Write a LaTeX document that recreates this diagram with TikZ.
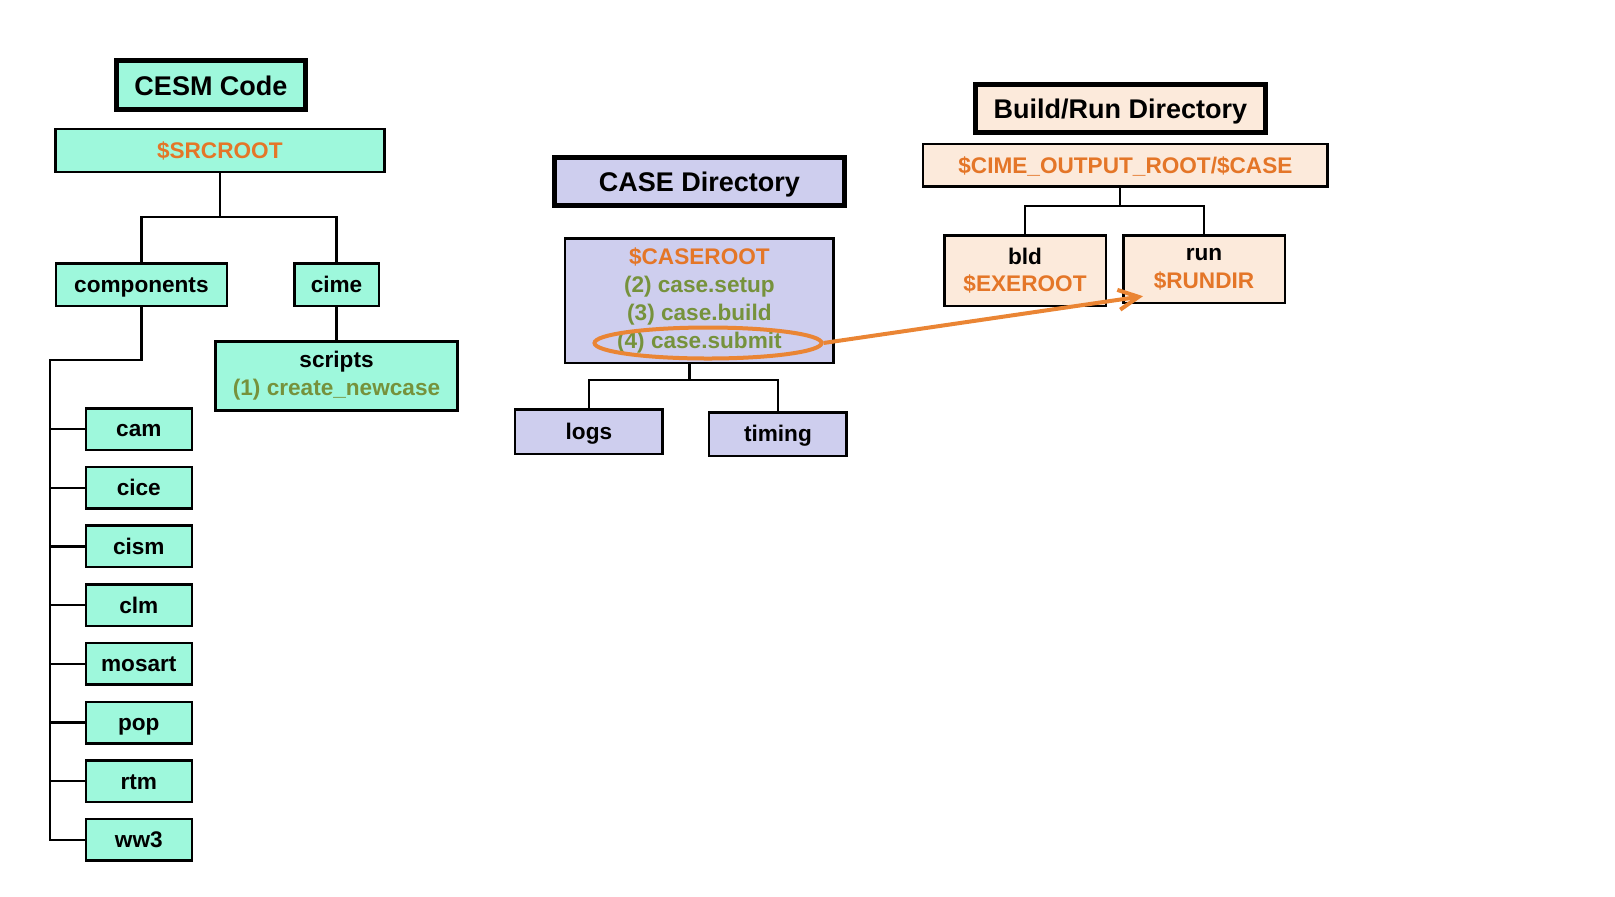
\documentclass[tikz,border=0pt]{standalone}
\usepackage{fontspec}
\setmainfont{Liberation Sans}
\usetikzlibrary{positioning, shapes.geometric, arrows.meta}

\definecolor{codegreen}{RGB}{158,248,220}
\definecolor{caselilac}{RGB}{206,206,238}
\definecolor{runpeach}{RGB}{252,234,219}
\definecolor{varorange}{RGB}{228,118,40}
\definecolor{stepgreen}{RGB}{118,146,60}
\definecolor{ringorange}{RGB}{234,133,52}

\newcommand{\dirfont}{\bfseries\fontsize{11.3}{13.9}\selectfont}
\newcommand{\headfont}{\bfseries\fontsize{13.5}{16}\selectfont}

\begin{document}
\begin{tikzpicture}[x=0.5pt, y=-0.5pt, node distance=1cm, auto]
\tikzset{
    codeDir/.style={rectangle, draw=black, line width=1.25pt, fill=codegreen, text centered, align=center, inner sep=0pt, font=\dirfont},
    caseDir/.style={codeDir, fill=caselilac},
    runDir/.style={codeDir, fill=runpeach},
    oneLine/.style={text height=9pt, text depth=1.1pt},
    codeLeaf/.style={codeDir, oneLine, minimum width=53pt, minimum height=20.75pt},
    dirTitle/.style={line width=2.5pt, minimum width=145pt, minimum height=24pt, font=\headfont, text height=10.8pt, text depth=0.8pt},
    branch/.style={draw=black, line width=1.1pt},
    submitRing/.style={ellipse, draw=ringorange, line width=2pt, minimum width=113.5pt, minimum height=15.5pt, inner sep=0pt},
    submitArrow/.style={draw=ringorange, line width=2pt, -{Straight Barb[length=10pt, width=10pt]}}
}

\useasboundingbox (0,0) rectangle (1615,896);

% nodes
\node[codeDir, dirTitle, minimum width=94.5pt, minimum height=24.5pt] (cesm) at (211,85) {CESM Code};
\node[codeDir, oneLine, minimum width=164.5pt, minimum height=21.4pt, below=7.85pt of cesm, xshift=4.4pt] (srcroot) {\textcolor{varorange}{\$SRCROOT}};
\node[codeDir, oneLine, minimum width=85.4pt, minimum height=21.25pt, below=44.5pt of srcroot, xshift=-39.2pt] (components) {components};
\node[codeDir, oneLine, minimum width=42.25pt, minimum height=21.25pt, right=32.5pt of components] (cime) {cime};
\node[codeDir, minimum width=121pt, minimum height=34.5pt, below=16.5pt of cime] (scripts) {scripts\\\textcolor{stepgreen}{(1) create\_newcase}};
\node[codeLeaf, below=50pt of components, xshift=-1.3pt] (cam) {cam};
\node[codeLeaf, below=7.35pt of cam]    (cice)   {cice};
\node[codeLeaf, below=7.35pt of cice]   (cism)   {cism};
\node[codeLeaf, below=7.35pt of cism]   (clm)    {clm};
\node[codeLeaf, below=7.35pt of clm]    (mosart) {mosart};
\node[codeLeaf, below=7.35pt of mosart] (pop)    {pop};
\node[codeLeaf, below=7.35pt of pop]    (rtm)    {rtm};
\node[codeLeaf, below=7.35pt of rtm]    (ww3)    {ww3};

\node[caseDir, dirTitle] (casetitle) at (699.4,181.5) {CASE Directory};
\node[caseDir, minimum width=134.25pt, minimum height=62.25pt, below=14.5pt of casetitle] (caseroot) {\textcolor{varorange}{\$CASEROOT}\\\textcolor{stepgreen}{(2) case.setup}\\\textcolor{stepgreen}{(3) case.build}\\\textcolor{stepgreen}{(4) case.submit}};
\node[caseDir, oneLine, minimum width=73.75pt, minimum height=22.25pt, below=22pt of caseroot, xshift=-55.25pt] (logs) {logs};
\node[caseDir, oneLine, minimum width=68.75pt, minimum height=21.75pt, right=22pt of logs, yshift=-1.25pt] (timing) {timing};

\node[runDir, dirTitle] (runtitle) at (1120.4,108.4) {Build/Run Directory};
\node[runDir, oneLine, minimum width=202.25pt, minimum height=21.25pt, below=4pt of runtitle, xshift=2.5pt] (outroot) {\textcolor{varorange}{\$CIME\_OUTPUT\_ROOT/\$CASE}};
\node[runDir, minimum width=80.75pt, minimum height=35.25pt, below=23.15pt of outroot, xshift=-50.2pt] (bld) {bld\\\textcolor{varorange}{\$EXEROOT}};
\node[runDir, minimum width=80.75pt, minimum height=33.75pt, right=7.5pt of bld, yshift=0.75pt] (run) {run\\\textcolor{varorange}{\$RUNDIR}};

\node[submitRing] (submit) at (708,343) {};

% tree lines
\draw[branch] (srcroot.south) -- ++(0,-21.9pt) -| (components.north);
\draw[branch] (srcroot.south) -- ++(0,-21.9pt) -| (cime.north);
\draw[branch] (cime) -- (scripts);
\coordinate (spine) at (50,360);
\draw[branch] (components.south) |- (spine) -- (spine |- ww3.west) -- (ww3.west);
\draw[branch] (spine |- cam.west) -- (cam.west);
\draw[branch] (spine |- cice.west) -- (cice.west);
\draw[branch] (spine |- cism.west) -- (cism.west);
\draw[branch] (spine |- clm.west) -- (clm.west);
\draw[branch] (spine |- mosart.west) -- (mosart.west);
\draw[branch] (spine |- pop.west) -- (pop.west);
\draw[branch] (spine |- rtm.west) -- (rtm.west);

\draw[branch] ([xshift=-5pt]caseroot.south) -- ++(0,-8pt) -| (logs.north);
\draw[branch] ([xshift=-5pt]caseroot.south) -- ++(0,-8pt) -| (timing.north);
\draw[branch] ([xshift=-2.7pt]outroot.south) -- ++(0,-9.15pt) -| (bld.north);
\draw[branch] ([xshift=-2.7pt]outroot.south) -- ++(0,-9.15pt) -| (run.north);

% arrow
\draw[submitArrow] (submit.east) -- ([xshift=10.5pt,yshift=4pt]run.south west);

\end{tikzpicture}
\end{document}
